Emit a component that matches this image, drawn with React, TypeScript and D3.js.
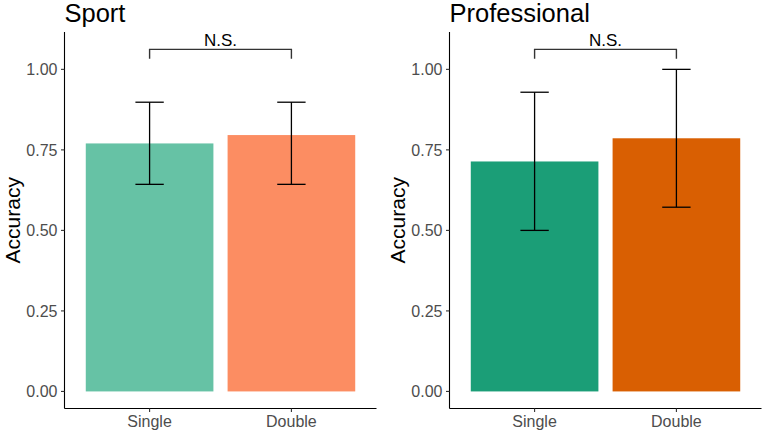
import * as d3 from "d3";

// values
const categories = ["Single", "Double"];
const yTicks = [0, 0.25, 0.5, 0.75, 1];

const sportMeans = [0.77, 0.796];
const sportLower = [0.643, 0.643];
const sportUpper = [0.898, 0.898];
const sportColors = ["#66C2A5", "#FC8D62"];

const proMeans = [0.714, 0.786];
const proLower = [0.5, 0.572];
const proUpper = [0.929, 1.0];
const proColors = ["#1B9E77", "#D95F02"];

const bracketTop = 1.062;
const bracketEnd = 1.033;
const bracketLabel = "N.S.";

const FONT = "Liberation Sans, Arial, sans-serif";

interface PanelProps {
  left: number;
  title: string;
  means: number[];
  lower: number[];
  upper: number[];
  colors: string[];
}

function Panel({ left, title, means, lower, upper, colors }: PanelProps) {
  const plotW = 312;
  const top = 32;
  const bottom = 408.5;

  const x = d3.scalePoint<string>().domain(categories).range([left, left + plotW]).padding(0.6);
  const step = x.step();
  const y = d3.scaleLinear().domain([-0.053, 1.116]).range([bottom, top]);

  const barW = step * 0.9;
  const capW = step * 0.2;
  const bx1 = x(categories[0])!;
  const bx2 = x(categories[1])!;

  return (
    <g fontFamily={FONT}>
      <text x={left} y={22} fontSize={25.5} fill="#000">
        {title}
      </text>
      <text
        transform={`translate(${left - 44.5},${(top + bottom) / 2}) rotate(-90)`}
        textAnchor="middle"
        fontSize={21}
        fill="#000"
      >
        Accuracy
      </text>

      {categories.map((c, i) => (
        <rect
          key={c}
          x={x(c)! - barW / 2}
          y={y(means[i])}
          width={barW}
          height={y(0) - y(means[i])}
          fill={colors[i]}
        />
      ))}

      {categories.map((c, i) => {
        const cx = x(c)!;
        return (
          <g key={c} stroke="#000" strokeWidth={1.3} fill="none">
            <line x1={cx} x2={cx} y1={y(lower[i])} y2={y(upper[i])} />
            <line x1={cx - capW / 2} x2={cx + capW / 2} y1={y(upper[i])} y2={y(upper[i])} />
            <line x1={cx - capW / 2} x2={cx + capW / 2} y1={y(lower[i])} y2={y(lower[i])} />
          </g>
        );
      })}

      <path
        d={`M${bx1},${y(bracketEnd)}V${y(bracketTop)}H${bx2}V${y(bracketEnd)}`}
        stroke="#333"
        strokeWidth={1.4}
        fill="none"
      />
      <text x={(bx1 + bx2) / 2} y={y(bracketTop) - 3.5} textAnchor="middle" fontSize={17} fill="#000">
        {bracketLabel}
      </text>

      {/* y axis */}
      <line x1={left} x2={left} y1={top} y2={bottom} stroke="#000" strokeWidth={1.1} />
      {yTicks.map((t) => (
        <g key={t}>
          <line x1={left - 3.5} x2={left} y1={y(t)} y2={y(t)} stroke="#333" strokeWidth={1.1} />
          <text x={left - 7} y={y(t)} dy="0.36em" textAnchor="end" fontSize={16} fill="#4D4D4D">
            {d3.format(".2f")(t)}
          </text>
        </g>
      ))}

      {/* x axis */}
      <line x1={left} x2={left + plotW} y1={bottom} y2={bottom} stroke="#000" strokeWidth={1.1} />
      {categories.map((c) => (
        <g key={c}>
          <line x1={x(c)!} x2={x(c)!} y1={bottom} y2={bottom + 3.5} stroke="#333" strokeWidth={1.1} />
          <text x={x(c)!} y={426.5} textAnchor="middle" fontSize={16} fill="#4D4D4D">
            {c}
          </text>
        </g>
      ))}
    </g>
  );
}

export default function App() {
  return (
    <div style={{ position: "absolute", left: 0, top: 0 }}>
      <svg width={765} height={434} style={{ display: "block", background: "#fff" }}>
        <Panel left={64.5} title="Sport" means={sportMeans} lower={sportLower} upper={sportUpper} colors={sportColors} />
        <Panel left={449.5} title="Professional" means={proMeans} lower={proLower} upper={proUpper} colors={proColors} />
      </svg>
    </div>
  );
}
